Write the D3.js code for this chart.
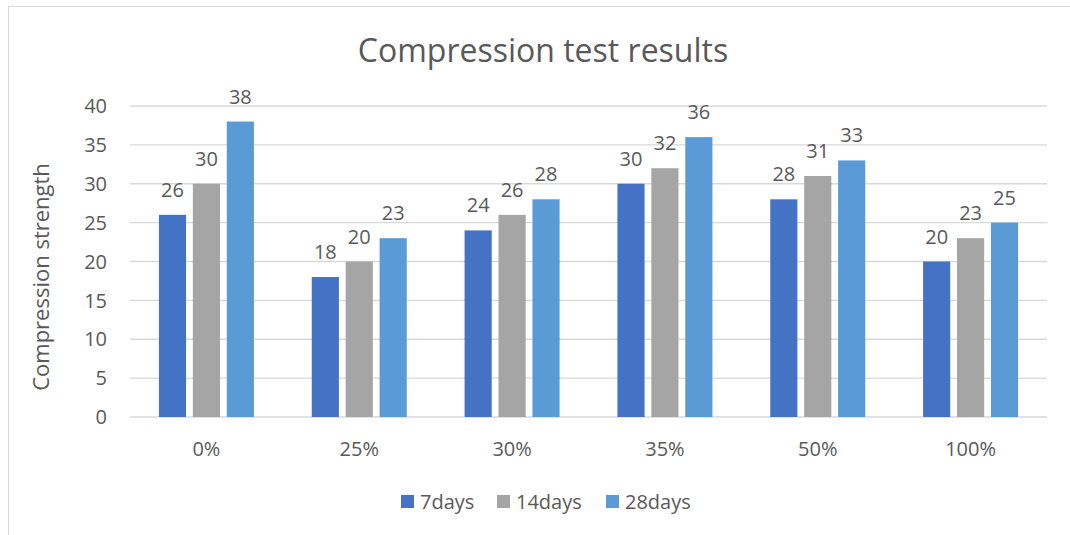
<!DOCTYPE html>
<html><head><meta charset="utf-8">
<script src="https://cdn.jsdelivr.net/npm/d3@7"></script>
<style>body{margin:0;background:#fff;} text{font-family:"Open Sans",sans-serif;fill:#595959;}</style>
</head><body><svg id="c" width="1070" height="535"></svg>
<script>
const categories = ["0%","25%","30%","35%","50%","100%"];
const seriesNames = ["7days","14days","28days"];
const days7 = [26,18,24,30,28,20];
const days14 = [30,20,26,32,31,23];
const days28 = [38,23,28,36,33,25];
const yTicks = [0,5,10,15,20,25,30,35,40];
const colors = ["#4472C4","#A5A5A5","#5B9BD5"];
const series = [days7, days14, days28];

const svg = d3.select("#c");
svg.append("rect").attr("x",8.5).attr("y",6.5).attr("width",1070).attr("height",540)
  .attr("fill","none").attr("stroke","#d9d9d9");

const pL=130, pR=1047, pT=106, pB=417;
const x = d3.scaleBand().domain(categories).range([pL,pR]);
const y = d3.scaleLinear().domain([0,40]).range([pB,pT]);
const inner = d3.scaleBand().domain(d3.range(3)).range([0,95]).paddingInner(0.2);

// gridlines
svg.append("g").selectAll("line").data(yTicks).join("line")
  .attr("x1",pL).attr("x2",pR).attr("y1",d=>y(d)).attr("y2",d=>y(d))
  .attr("stroke","#d9d9d9").attr("stroke-width",1.3);

// y labels
svg.append("g").selectAll("text").data(yTicks).join("text")
  .attr("x",107).attr("y",d=>y(d)).attr("dy","0.36em").attr("text-anchor","end")
  .attr("font-size",20).text(d=>d);

// x labels
svg.append("g").selectAll("text").data(categories).join("text")
  .attr("x",d=>x(d)+x.bandwidth()/2).attr("y",456).attr("text-anchor","middle")
  .attr("font-size",20).text(d=>d);

// bars
series.forEach((vals,si)=>{
  const g = svg.append("g");
  g.selectAll("rect").data(vals).join("rect")
    .attr("x",(d,i)=>x(categories[i])+x.bandwidth()/2-47.5+inner(si))
    .attr("width",inner.bandwidth())
    .attr("y",d=>y(d)).attr("height",d=>pB-y(d))
    .attr("fill",colors[si]);
  g.selectAll("text").data(vals).join("text")
    .attr("x",(d,i)=>x(categories[i])+x.bandwidth()/2-47.5+inner(si)+inner.bandwidth()/2)
    .attr("y",d=>y(d)-18).attr("text-anchor","middle").attr("font-size",20).text(d=>d);
});

// title
svg.append("text").attr("x",543).attr("y",62).attr("text-anchor","middle")
  .attr("font-size",32).text("Compression test results");

// y axis title
svg.append("text").attr("transform","translate(49,277) rotate(-90)")
  .attr("text-anchor","middle").attr("font-size",22).text("Compression strength");

// legend
const legX = [401,497,606];
const lg = svg.append("g");
seriesNames.forEach((n,i)=>{
  lg.append("rect").attr("x",legX[i]).attr("y",495).attr("width",13).attr("height",13).attr("fill",colors[i]);
  lg.append("text").attr("x",legX[i]+19).attr("y",509).attr("font-size",20).text(n);
});
</script></body></html>
